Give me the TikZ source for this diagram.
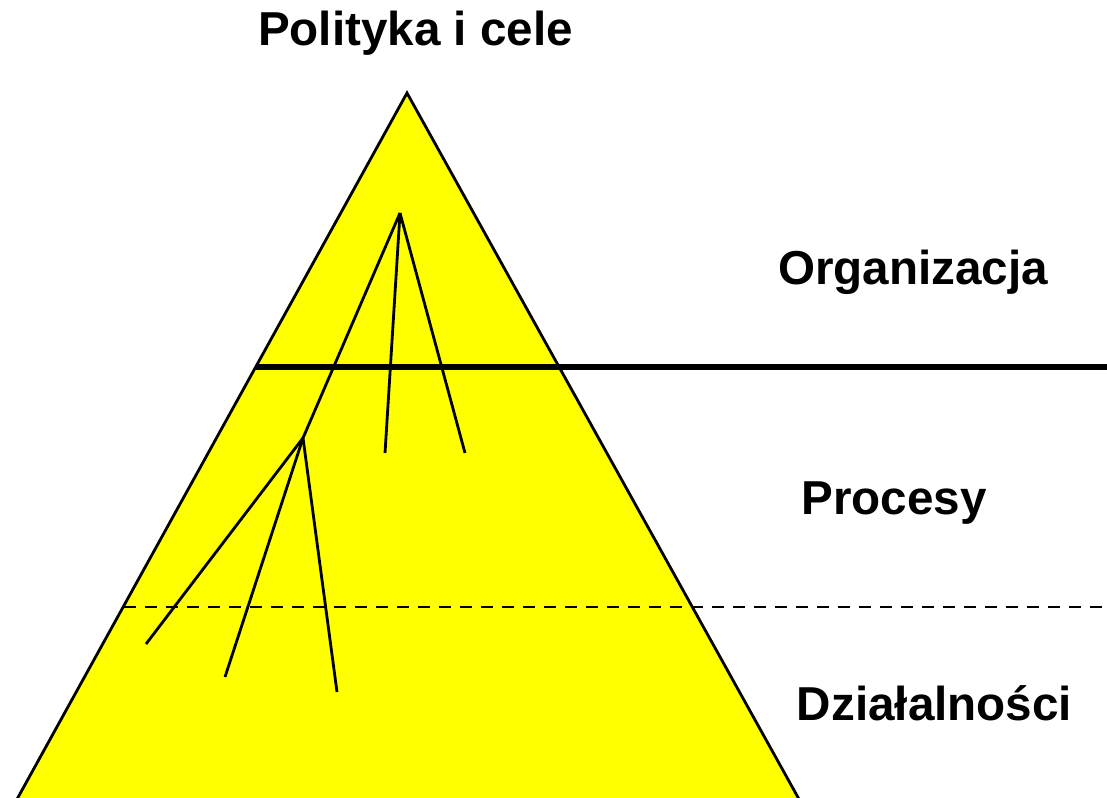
\documentclass[tikz,border=0pt]{standalone}
\usepackage{fontspec}
\setmainfont{Liberation Sans}
\definecolor{pyrfill}{RGB}{255,255,0}
\begin{document}
\begin{tikzpicture}[x=1pt,y=-1pt,
  label/.style={font=\bfseries\fontsize{47.6}{56}\selectfont, inner sep=0pt, anchor=base},
  edge/.style={line width=2.8pt},
  branch/.style={line width=2.8pt, line cap=butt}]
\useasboundingbox (0,0) rectangle (1107,797);

% pyramid
\coordinate (apex) at (407,93);
\coordinate (bl) at (16,801);
\coordinate (br) at (800,801);
\fill[pyrfill] (apex) -- (bl) -- (br) -- cycle;

% level separators
\coordinate (s1) at (256,367);
\coordinate (s1e) at (1107,367);
\coordinate (d1) at (124,607);
\coordinate (d1e) at (1107,607);
\draw[line width=5.5pt] (s1) -- (s1e);
\draw[line width=2.4pt, dash pattern=on 12pt off 9pt] (d1) -- (d1e);

\draw[edge, line join=miter] (bl) -- (apex) -- (br);

% decomposition tree
\coordinate (t0) at (400,213);
\coordinate (t1) at (303,438);
\coordinate (a1) at (385,453);
\coordinate (a2) at (465,453);
\coordinate (b1) at (146,644);
\coordinate (b2) at (225,677);
\coordinate (b3) at (337,692);
\draw[branch] (t0) -- (t1);
\draw[branch] (t0) -- (a1);
\draw[branch] (t0) -- (a2);
\draw[branch] (t1) -- (b1);
\draw[branch] (t1) -- (b2);
\draw[branch] (t1) -- (b3);

% labels
\node[label] (top) at (415.5,46) {Polityka i cele};
\node[label] (org) at (913,284) {Organizacja};
\node[label] (proc) at (894,514) {Procesy};
\node[label] (dzi) at (934.5,720) {Działalności};
\end{tikzpicture}
\end{document}
